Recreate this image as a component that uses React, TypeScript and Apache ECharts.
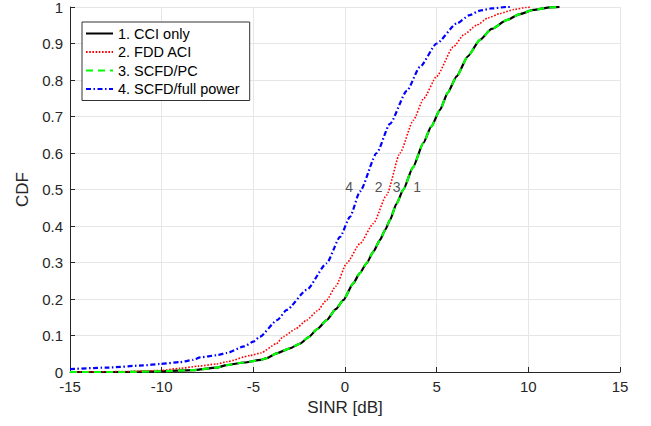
import React, { useEffect, useRef } from "react";
import * as echarts from "echarts";

const xTicks = [-15, -10, -5, 0, 5, 10, 15];

const cciX = [-15, -12, -10, -8.3, -7, -6.45, -5.5, -4.6, -4.27, -3.73, -3, -2.45, -2, -1.5, -1.0, -0.5, -0.09, 0.45, 0.8, 1.18, 1.55, 1.91, 2.2, 2.45, 2.8, 3.18, 3.7, 4.27, 4.7, 5.18, 5.6, 6.09, 6.7, 7.36, 8.0, 8.82, 9.5, 10.27, 11.2, 11.7];
const cciY = [0, 0, 0.002, 0.005, 0.012, 0.019, 0.026, 0.033, 0.038, 0.051, 0.065, 0.078, 0.095, 0.118, 0.142, 0.172, 0.197, 0.243, 0.27, 0.298, 0.33, 0.362, 0.39, 0.416, 0.46, 0.5, 0.56, 0.627, 0.672, 0.718, 0.765, 0.81, 0.865, 0.91, 0.94, 0.964, 0.98, 0.992, 0.999, 1.0];

const fddX = [-15, -12, -10.1, -9, -8, -7, -6.45, -5.18, -4.6, -3.73, -3.36, -2.7, -2.09, -1.5, -1.0, -0.5, 0.09, 0.82, 1.55, 2.27, 3.0, 3.73, 4.3, 5.0, 5.9, 6.5, 7.18, 7.8, 8.45, 9.2, 9.9, 10.1];
const fddY = [0, 0.001, 0.004, 0.01, 0.016, 0.022, 0.028, 0.045, 0.052, 0.078, 0.097, 0.118, 0.142, 0.168, 0.197, 0.235, 0.298, 0.352, 0.407, 0.485, 0.6, 0.69, 0.75, 0.81, 0.89, 0.925, 0.95, 0.97, 0.982, 0.993, 0.999, 1.0];

const pcX = [-15, -12, -10, -8.3, -7, -6.45, -5.5, -4.6, -4.27, -3.73, -3, -2.45, -2, -1.5, -1.0, -0.5, -0.09, 0.45, 0.8, 1.18, 1.55, 1.91, 2.2, 2.45, 2.8, 3.18, 3.7, 4.27, 4.7, 5.18, 5.6, 6.09, 6.7, 7.36, 8.0, 8.82, 9.5, 10.27, 11.2, 11.7];
const pcY = [0, 0, 0.002, 0.005, 0.012, 0.019, 0.026, 0.033, 0.038, 0.051, 0.065, 0.078, 0.095, 0.118, 0.142, 0.172, 0.197, 0.243, 0.27, 0.298, 0.33, 0.362, 0.39, 0.416, 0.46, 0.5, 0.56, 0.627, 0.672, 0.718, 0.765, 0.81, 0.865, 0.91, 0.94, 0.964, 0.98, 0.992, 0.999, 1.0];

const fullX = [-15, -13, -11, -10.1, -9, -8.3, -7.9, -7, -6.45, -5.5, -5.0, -4.64, -3.7, -3.18, -2.09, -1.0, -0.27, 0.27, 0.82, 1.73, 2.45, 3.37, 4.09, 5.0, 6.1, 6.8, 7.36, 8.0, 8.8, 9.1];
const fullY = [0.008, 0.012, 0.018, 0.022, 0.027, 0.033, 0.04, 0.046, 0.052, 0.07, 0.083, 0.097, 0.142, 0.17, 0.225, 0.298, 0.37, 0.425, 0.495, 0.6, 0.68, 0.77, 0.836, 0.9, 0.955, 0.978, 0.99, 0.996, 1.0, 1.0];

const seriesNames = ["1. CCI only", "2. FDD ACI", "3. SCFD/PC", "4. SCFD/full power"];

const annotationText = ["4", "2", "3", "1"];
const annotationX = [0.22, 1.84, 2.82, 3.93];
const annotationY = [0.508, 0.508, 0.508, 0.508];

const zip = (xs: number[], ys: number[]) => xs.map((x, i) => [x, ys[i]]);

const FONT = "'Liberation Sans', Arial, Helvetica, sans-serif";

export default function App() {
  const ref = useRef<HTMLDivElement>(null);

  useEffect(() => {
    if (!ref.current) return;
    const chart = echarts.init(ref.current, null, { renderer: "svg" });
    const lineBase = {
      type: "line" as const,
      symbol: "none",
      smooth: 0.2,
      smoothMonotone: "x",
      silent: true,
    };
    chart.setOption({
      animation: false,
      backgroundColor: "#ffffff",
      grid: {
        left: 70,
        right: 31,
        top: 7,
        bottom: 54,
        containLabel: false,
        outerBoundsMode: "none",
      },
      legend: {
        data: seriesNames,
        orient: "vertical",
        left: 82,
        top: 22,
        itemWidth: 27,
        itemHeight: 14,
        itemGap: 3.5,
        padding: [4, 10, 4, 3],
        borderColor: "#333333",
        borderWidth: 1,
        borderRadius: 0,
        backgroundColor: "#ffffff",
        itemStyle: { opacity: 0 },
        textStyle: { fontFamily: FONT, fontSize: 14.5, color: "#000000" },
        selectedMode: false,
      },
      xAxis: {
        type: "value",
        min: -15,
        max: 15,
        interval: 5,
        name: "SINR [dB]",
        nameLocation: "middle",
        nameGap: 25,
        nameTextStyle: { fontFamily: FONT, fontSize: 17, color: "#262626" },
        axisLine: { show: true, onZero: false, lineStyle: { color: "#262626", width: 1 } },
        axisTick: { show: true, inside: true, length: 5, lineStyle: { color: "#262626" } },
        axisLabel: {
          fontFamily: FONT,
          fontSize: 15,
          color: "#262626",
          margin: 7,
          formatter: (v: number) => (xTicks.includes(v) ? String(v) : ""),
        },
        splitLine: { show: true, lineStyle: { color: "#e6e6e6", width: 1 } },
      },
      yAxis: {
        type: "value",
        min: 0,
        max: 1,
        interval: 0.1,
        name: "CDF",
        nameLocation: "middle",
        nameGap: 36,
        nameTextStyle: { fontFamily: FONT, fontSize: 17, color: "#262626" },
        axisLine: { show: true, onZero: false, lineStyle: { color: "#262626", width: 1 } },
        axisTick: { show: true, inside: true, length: 5, lineStyle: { color: "#262626" } },
        axisLabel: {
          fontFamily: FONT,
          fontSize: 15,
          color: "#262626",
          margin: 7,
          formatter: (v: number) => {
            const r = Math.round(v * 10) / 10;
            return r === 0 ? "0" : r === 1 ? "1" : r.toFixed(1);
          },
        },
        splitLine: { show: true, lineStyle: { color: "#e6e6e6", width: 1 } },
      },
      series: [
        {
          ...lineBase,
          name: seriesNames[0],
          data: zip(cciX, cciY),
          color: "#000000",
          lineStyle: { color: "#000000", width: 2.2, type: "solid" },
          z: 2,
        },
        {
          ...lineBase,
          name: seriesNames[1],
          data: zip(fddX, fddY),
          color: "#ff0000",
          lineStyle: { color: "#ff0000", width: 1.6, type: [1.6, 1.6] },
          z: 3,
        },
        {
          ...lineBase,
          name: seriesNames[2],
          data: zip(pcX, pcY),
          color: "#00ff00",
          lineStyle: { color: "#00ff00", width: 2.2, type: [7, 5] },
          z: 4,
        },
        {
          ...lineBase,
          name: seriesNames[3],
          data: zip(fullX, fullY),
          color: "#0000ff",
          lineStyle: { color: "#0000ff", width: 2.2, type: [5, 2.5, 1.5, 2.5] },
          z: 5,
        },
        {
          type: "scatter",
          name: "labels",
          silent: true,
          symbol: "circle",
          symbolSize: 1,
          itemStyle: { color: "rgba(0,0,0,0)" },
          data: annotationX.map((x, i) => ({ value: [x, annotationY[i]], name: annotationText[i] })),
          label: {
            show: true,
            position: "inside",
            formatter: (p: any) => p.name,
            fontFamily: FONT,
            fontSize: 14,
            color: "#262626",
          },
          z: 6,
        },
      ],
    });
    return () => chart.dispose();
  }, []);

  return (
    <div
      ref={ref}
      style={{ position: "fixed", left: 0, top: 0, width: 651, height: 426 }}
    />
  );
}
